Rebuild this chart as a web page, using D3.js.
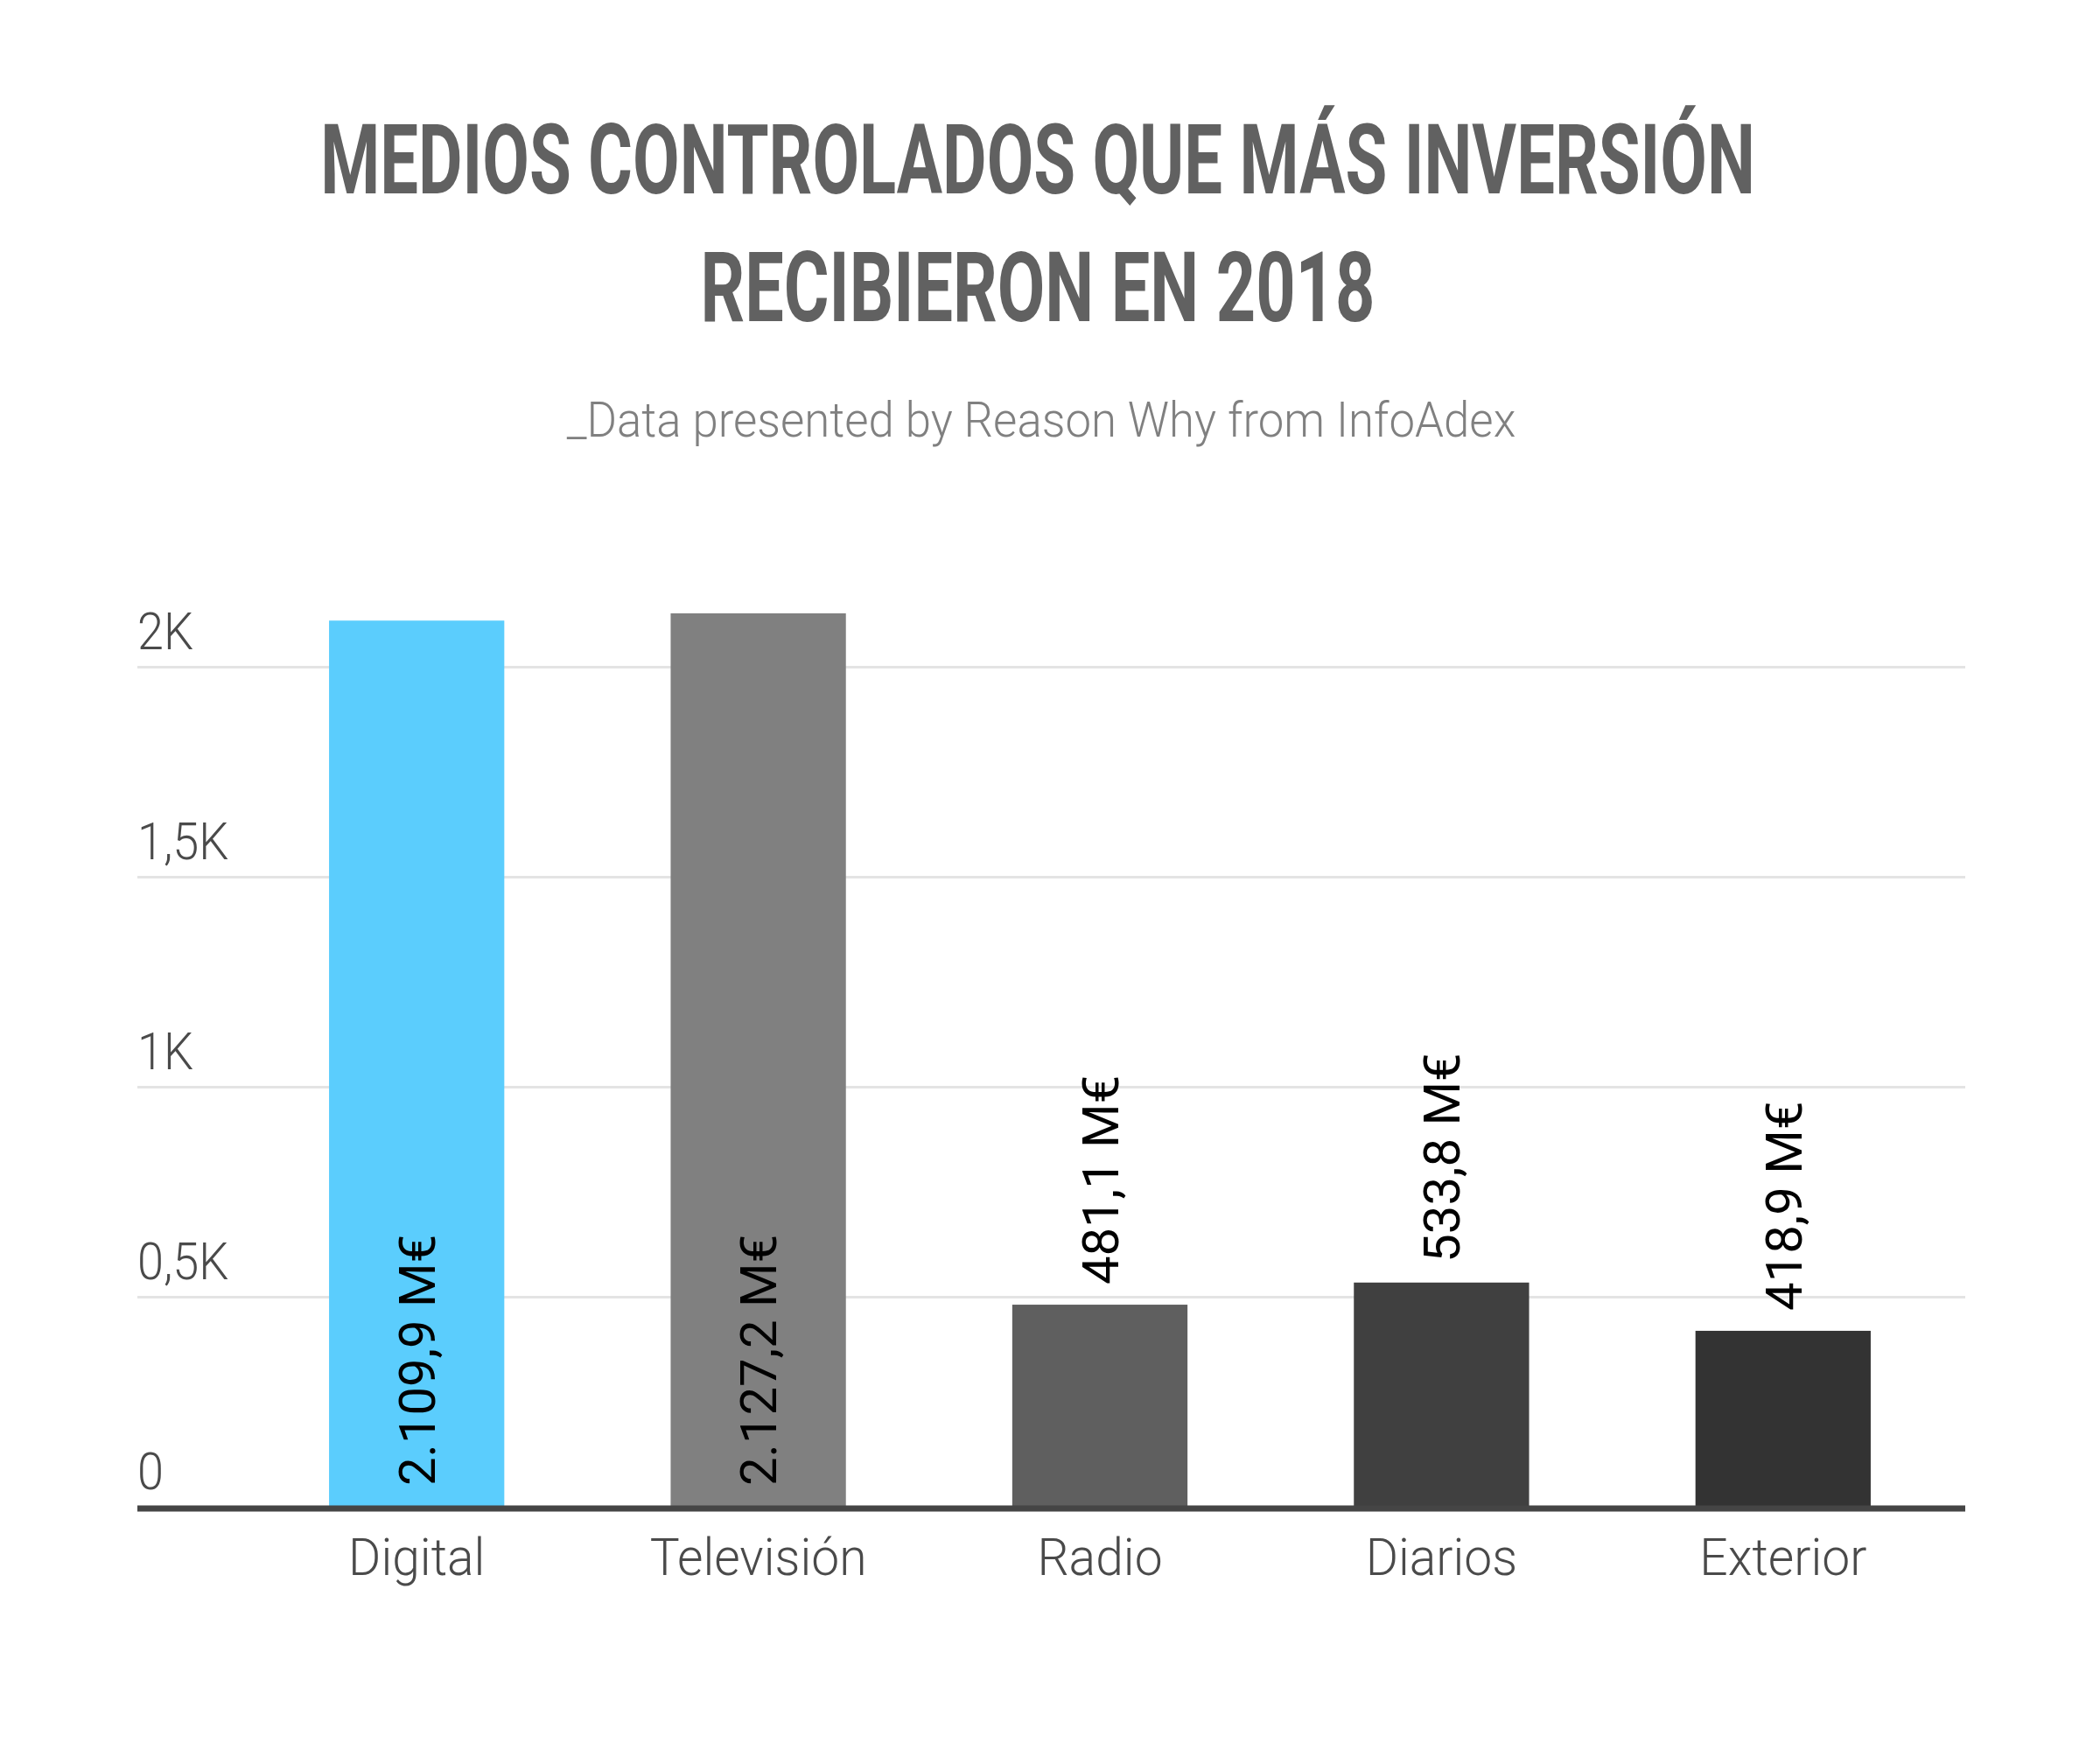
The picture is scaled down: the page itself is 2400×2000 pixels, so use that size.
<!DOCTYPE html>
<html>
<head>
<meta charset="utf-8">
<script src="https://cdn.jsdelivr.net/npm/d3@7"></script>
<style>
  body { margin: 0; background: #ffffff; }
</style>
</head>
<body>
<div id="chart"></div>
<script>
// data (millions of euros)
var categories = ["Digital", "Televisión", "Radio", "Diarios", "Exterior"];
var values = [2109.9, 2127.2, 481.1, 533.8, 418.9];
var barColors = ["#5bcdfd", "#808080", "#5f5f5f", "#404040", "#333333"];
var tickValues = [0, 500, 1000, 1500, 2000];
var tickLabels = ["0", "0,5K", "1K", "1,5K", "2K"];

var titleLines = ["MEDIOS CONTROLADOS QUE MÁS INVERSIÓN", "RECIBIERON EN 2018"];
var subtitle = "_Data presented by Reason Why from InfoAdex";

var width = 2400;
var height = 2000;
var left = 157, right = 2246;
var plotTop = 600;

var es = d3.formatLocale({decimal: ",", thousands: ".", grouping: [3], currency: ["", " M€"]});
var fmt = es.format(",.1f");

var svg = d3.select("#chart").append("svg")
    .attr("width", width)
    .attr("height", height);

svg.append("rect")
    .attr("width", width)
    .attr("height", height)
    .attr("fill", "#ffffff");

// squeeze a centred text horizontally to a given width (condensed look)
function fitText(sel, cx, base, target) {
    var natural = sel.node().getComputedTextLength();
    sel.attr("transform", "translate(" + cx + "," + base + ") scale(" + (target / natural) + ",1)");
}

// title
var titleWidths = [1640, 771];
var titleBase = [221, 367];
titleLines.forEach(function(t, i) {
    var tt = svg.append("text")
        .attr("text-anchor", "middle")
        .style("font-family", "Roboto")
        .style("font-weight", 700)
        .style("font-size", "112px")
        .style("fill", "#616161")
        .text(t);
    fitText(tt, 1186, titleBase[i], titleWidths[i]);
});

var sub = svg.append("text")
    .attr("text-anchor", "middle")
    .style("font-family", "Roboto")
    .style("font-weight", 300)
    .style("font-size", "56px")
    .style("fill", "#808080")
    .text(subtitle);
fitText(sub, 1190, 499, 1085);

var x = d3.scaleBand()
    .domain(categories)
    .range([281, 2233])
    .paddingInner(0.487)
    .paddingOuter(0.2435);

var y = d3.scaleLinear()
    .domain([0, 2000])
    .range([1722, 762]);

// gridlines + y labels
var yAxis = svg.append("g")
    .attr("transform", "translate(" + left + ",0)")
    .call(d3.axisLeft(y)
        .tickValues(tickValues)
        .tickSize(-(right - left))
        .tickFormat(function(d, i) { return tickLabels[i]; }));

yAxis.select(".domain").remove();
yAxis.selectAll(".tick line")
    .attr("stroke", "#e4e4e4")
    .attr("stroke-width", 3)
    .attr("opacity", function(d) { return d === 0 ? 0 : 1; });
yAxis.selectAll(".tick text")
    .attr("x", 0)
    .attr("y", -21)
    .attr("dy", 0)
    .attr("text-anchor", "start")
    .attr("transform", "scale(0.9,1)")
    .style("font-family", "Roboto")
    .style("font-weight", 300)
    .style("font-size", "60px")
    .style("fill", "#4a4a4a");

// bars
svg.selectAll(".bar")
    .data(values)
    .enter()
    .append("rect")
    .attr("class", "bar")
    .attr("x", function(d, i) { return x(categories[i]); })
    .attr("y", function(d) { return y(d); })
    .attr("width", x.bandwidth())
    .attr("height", function(d) { return y(0) - y(d); })
    .attr("fill", function(d, i) { return barColors[i]; });

// baseline
svg.append("line")
    .attr("x1", left)
    .attr("x2", right)
    .attr("y1", y(0) + 2)
    .attr("y2", y(0) + 2)
    .attr("stroke", "#454545")
    .attr("stroke-width", 7);

// category labels
var xAxis = svg.append("g")
    .attr("transform", "translate(0," + y(0) + ")")
    .call(d3.axisBottom(x).tickSize(0));

xAxis.select(".domain").remove();
xAxis.selectAll(".tick text")
    .attr("y", 78)
    .attr("dy", 0)
    .attr("transform", "scale(0.95,1)")
    .style("font-family", "Roboto")
    .style("font-weight", 300)
    .style("font-size", "60px")
    .style("fill", "#4a4a4a");

// value labels, rotated; inside at the base when there is no room above
var gap = 23;
var labels = svg.selectAll(".value")
    .data(values)
    .enter()
    .append("g")
    .attr("class", "value");

labels.append("text")
    .attr("dy", "0.36em")
    .style("font-family", "Roboto")
    .style("font-weight", 400)
    .style("font-size", "58px")
    .style("fill", "#000000")
    .text(function(d) { return fmt(d) + " M€"; });

labels.attr("transform", function(d, i) {
    var len = this.querySelector("text").getComputedTextLength();
    var cx = x(categories[i]) + x.bandwidth() / 2;
    var yy = y(d) - gap;
    if (yy - len < plotTop) yy = y(0) - 24;
    return "translate(" + cx + "," + yy + ") rotate(-90)";
});
</script>
</body>
</html>
